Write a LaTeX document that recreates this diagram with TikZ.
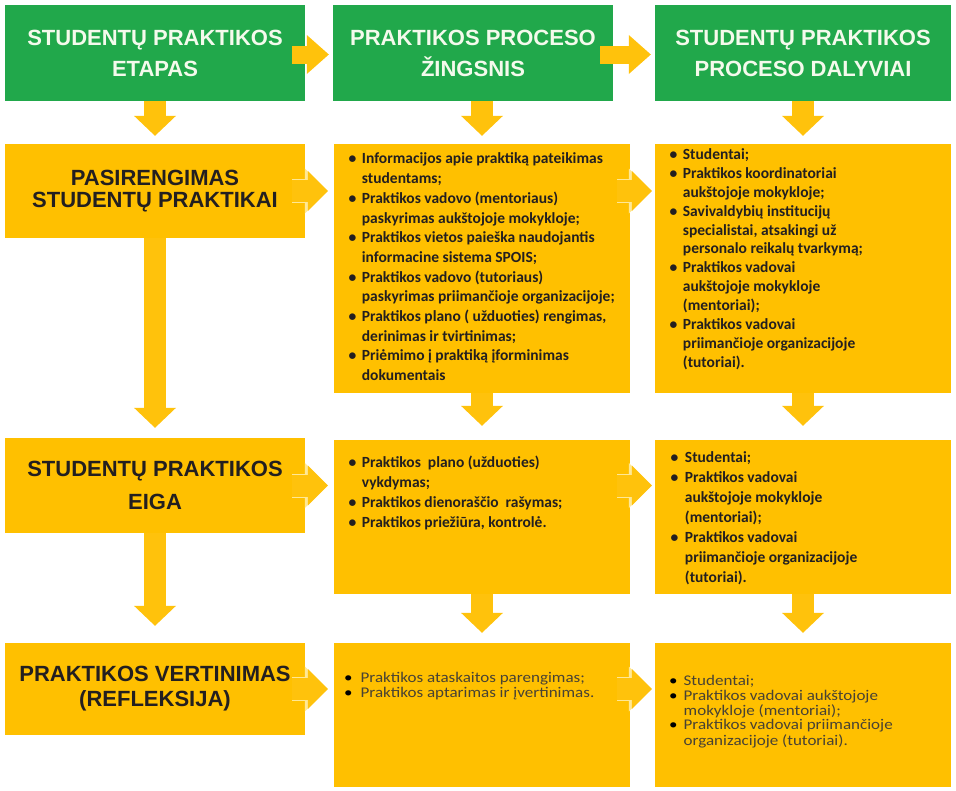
\documentclass[tikz,border=0pt]{standalone}
\usepackage{fontspec}
\setmainfont{Carlito}
\newfontfamily\headfont{Liberation Sans}
\newfontfamily\lastfont[FakeStretch=1.15]{Carlito}
\usetikzlibrary{arrows.meta,calc}

\definecolor{boxgreen}{RGB}{33,168,75}
\definecolor{boxyellow}{RGB}{255,192,0}
\definecolor{arrowyellow}{RGB}{255,194,12}
\definecolor{edgeyellow}{RGB}{255,232,150}
\definecolor{inkdark}{RGB}{35,31,32}
\definecolor{inkgrey}{RGB}{72,66,52}
\definecolor{headink}{RGB}{244,250,236}

\newcommand{\bl}{\textbullet}

\begin{document}
\begin{tikzpicture}[x=1pt,y=-1pt,
  greenbox/.style={fill=boxgreen, draw=none, inner sep=0pt, text=headink, align=center,
    font=\headfont\bfseries\fontsize{22}{31}\selectfont},
  yellowbox/.style={fill=boxyellow, draw=none, inner sep=0pt},
  stagelabel/.style={align=center, text=inkdark,
    font=\headfont\bfseries\fontsize{22}{#1}\selectfont},
  listtext/.style={anchor=north west, inner sep=0pt, text=inkdark,
    font=\bfseries\fontsize{15.5}{#1}\selectfont},
  lasttext/.style={anchor=north west, inner sep=0pt, text=inkgrey,
    font=\lastfont\fontsize{14.8}{14.5}\selectfont},
  headflow/.style={draw=arrowyellow, line width=18pt,
    -{Triangle[width=39pt,length=22pt,line width=0pt]}},
  vflow/.style={draw=arrowyellow, line width=22pt,
    -{Triangle[width=42pt,length=20pt,line width=0pt]}},
  hflowedge/.style={draw=edgeyellow, line width=24pt,
    -{Triangle[width=45pt,length=23pt,line width=0pt]}},
  hflow/.style={draw=arrowyellow, line width=22pt,
    -{Triangle[width=40pt,length=20pt,line width=0pt]}},
]
\useasboundingbox (0,0) rectangle (956,790);
\fill[white] (0,0) rectangle (956,790);

% header row
\node[greenbox, minimum width=300pt, minimum height=96pt] (g1) at (155,53) {STUDENTŲ PRAKTIKOS\\ETAPAS};
\node[greenbox, minimum width=280pt, minimum height=96pt] (g2) at (473,53) {PRAKTIKOS PROCESO\\ŽINGSNIS};
\node[greenbox, minimum width=296pt, minimum height=96pt] (g3) at (803,53) {STUDENTŲ PRAKTIKOS\\PROCESO DALYVIAI};

% stage column
\node[yellowbox, stagelabel=22, minimum width=300pt, minimum height=94pt] (a1) at (155,191) {PASIRENGIMAS\\STUDENTŲ PRAKTIKAI};
\node[yellowbox, stagelabel=33, minimum width=300pt, minimum height=95pt] (a2) at (155,485.5) {STUDENTŲ PRAKTIKOS\\EIGA};
\node[yellowbox, stagelabel=25, minimum width=300pt, minimum height=92pt] (a3) at (155,689) {PRAKTIKOS VERTINIMAS\\(REFLEKSIJA)};

% step column
\node[yellowbox, minimum width=296pt, minimum height=249pt] (b1) at (482,268.5) {};
\node[yellowbox, minimum width=296pt, minimum height=154pt] (b2) at (482,517) {};
\node[yellowbox, minimum width=296pt, minimum height=144pt] (b3) at (482,715) {};

% participant column
\node[yellowbox, minimum width=296pt, minimum height=249pt] (c1) at (803,268.5) {};
\node[yellowbox, minimum width=296pt, minimum height=154pt] (c2) at (803,517) {};
\node[yellowbox, minimum width=296pt, minimum height=144pt] (c3) at (803,715) {};

% header arrows
\draw[headflow] ($(g1.east)+(-13,1.5)$) -- ($(g2.west)+(-4,1.5)$);
\draw[headflow] ($(g2.east)+(-13,1.5)$) -- ($(g3.west)+(-4,1.5)$);
\draw[vflow] (g1.south -| a1.north) -- ($(a1.north)+(0,-8)$);
\draw[vflow] (g2.south -| b1.north) -- ($(b1.north)+(0,-8)$);
\draw[vflow] (g3.south -| c1.north) -- ($(c1.north)+(0,-8)$);

% downward flow between rows
\draw[vflow] (a1.south) -- ($(a2.north)+(0,-10)$);
\draw[vflow] (b1.south) -- ($(b2.north)+(0,-14)$);
\draw[vflow] (c1.south) -- ($(c2.north)+(0,-14)$);
\draw[vflow] (a2.south) -- ($(a3.north)+(0,-17)$);
\draw[vflow] (b2.south) -- ($(b3.north)+(0,-10)$);
\draw[vflow] (c2.south) -- ($(c3.north)+(0,-10)$);

% sideways flow within rows
\foreach \r in {1,2,3}{
  \draw[hflowedge] ($(a\r.east)+(-13,0)$) -- ($(b\r.west|-a\r.east)+(-6,0)$);
  \draw[hflow] ($(a\r.east)+(-13,0)$) -- ($(b\r.west|-a\r.east)+(-6,0)$);
  \draw[hflowedge] ($(b\r.east|-a\r.east)+(-13,0)$) -- ($(c\r.west|-a\r.east)+(-3,0)$);
  \draw[hflow] ($(b\r.east|-a\r.east)+(-13,0)$) -- ($(c\r.west|-a\r.east)+(-3,0)$);
}

% step texts
\node[listtext=19.7] (tb1) at (348.5,150) {\begin{tabular}{@{}l@{\hspace{5.5pt}}l@{}}
\bl & Informacijos apie praktiką pateikimas\\
    & studentams;\\
\bl & Praktikos vadovo (mentoriaus)\\
    & paskyrimas aukštojoje mokykloje;\\
\bl & Praktikos vietos paieška naudojantis\\
    & informacine sistema SPOIS;\\
\bl & Praktikos vadovo (tutoriaus)\\
    & paskyrimas priimančioje organizacijoje;\\
\bl & Praktikos plano ( užduoties) rengimas,\\
    & derinimas ir tvirtinimas;\\
\bl & Priėmimo į praktiką įforminimas\\
    & dokumentais
\end{tabular}};

\node[listtext=19.7] (tb2) at (348.5,454) {\begin{tabular}{@{}l@{\hspace{5.5pt}}l@{}}
\bl & Praktikos \ plano (užduoties)\\
    & vykdymas;\\
\bl & Praktikos dienoraščio \ rašymas;\\
\bl & Praktikos priežiūra, kontrolė.
\end{tabular}};

\node[lasttext] (tb3) at (344,672) {\begin{tabular}{@{}l@{\hspace{8pt}}l@{}}
{\color{black}\bl} & Praktikos ataskaitos parengimas;\\
{\color{black}\bl} & Praktikos aptarimas ir įvertinimas.
\end{tabular}};

% participant texts
\node[listtext=18.9] (tc1) at (669.5,146) {\begin{tabular}{@{}l@{\hspace{5.5pt}}l@{}}
\bl & Studentai;\\
\bl & Praktikos koordinatoriai\\
    & aukštojoje mokykloje;\\
\bl & Savivaldybių institucijų\\
    & specialistai, atsakingi už\\
    & personalo reikalų tvarkymą;\\
\bl & Praktikos vadovai\\
    & aukštojoje mokykloje\\
    & (mentoriai);\\
\bl & Praktikos vadovai\\
    & priimančioje organizacijoje\\
    & (tutoriai).
\end{tabular}};

\node[listtext=20] (tc2) at (670.5,448) {\begin{tabular}{@{}l@{\hspace{6.5pt}}l@{}}
\bl & Studentai;\\
\bl & Praktikos vadovai\\
    & aukštojoje mokykloje\\
    & (mentoriai);\\
\bl & Praktikos vadovai\\
    & priimančioje organizacijoje\\
    & (tutoriai).
\end{tabular}};

\node[lasttext] (tc3) at (669,675) {\begin{tabular}{@{}l@{\hspace{6pt}}l@{}}
{\color{black}\bl} & Studentai;\\
{\color{black}\bl} & Praktikos vadovai aukštojoje\\
                   & mokykloje (mentoriai);\\
{\color{black}\bl} & Praktikos vadovai priimančioje\\
                   & organizacijoje (tutoriai).
\end{tabular}};
\end{tikzpicture}
\end{document}
